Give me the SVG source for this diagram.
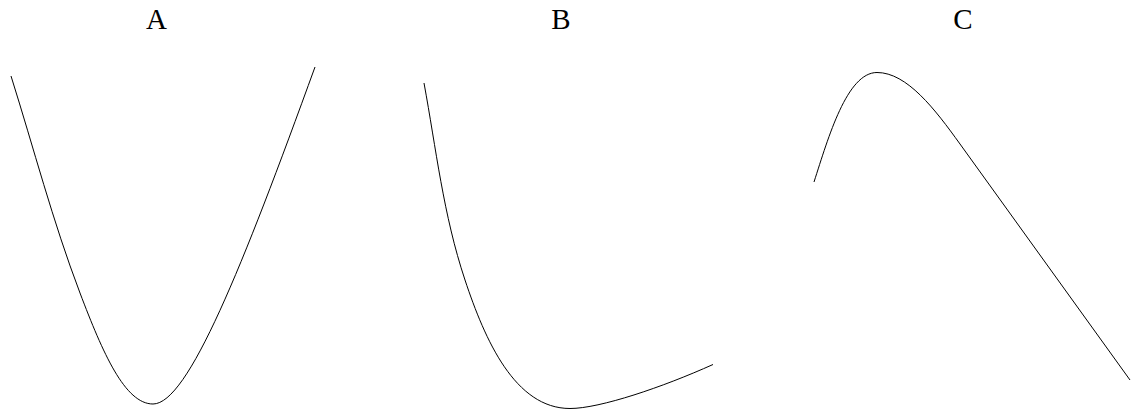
<svg xmlns="http://www.w3.org/2000/svg" width="1131" height="412" viewBox="0 0 1131 412">
  <style>
    .label { font-family: "Liberation Serif", "Times New Roman", serif; font-size: 29px; fill: #000; text-anchor: middle; }
    .curve { fill: none; stroke: #000; stroke-width: 1; }
  </style>
  <rect x="0" y="0" width="1131" height="412" fill="#fff"/>
  <g id="panel-a">
    <text class="label" x="156.5" y="28.5">A</text>
    <path class="curve" d="M11,76 C33.7,148 52.6,221 80,293 C102.8,353 125,404 153,404 C188,404 242.4,267 315,67"/>
  </g>
  <g id="panel-b">
    <text class="label" x="561" y="28.5">B</text>
    <path class="curve" d="M424,83 C436,148 443.3,215 465,280 C485,340 515,408.5 570,408.5 C600,408.5 663,387 713,364.5"/>
  </g>
  <g id="panel-c">
    <text class="label" x="963" y="28.5">C</text>
    <path class="curve" d="M814,182 C828.5,137 847,72.5 877,72.5 C907,72.5 935,109.25 960,144 L1130,380"/>
  </g>
  <g id="connectors"></g>
</svg>
